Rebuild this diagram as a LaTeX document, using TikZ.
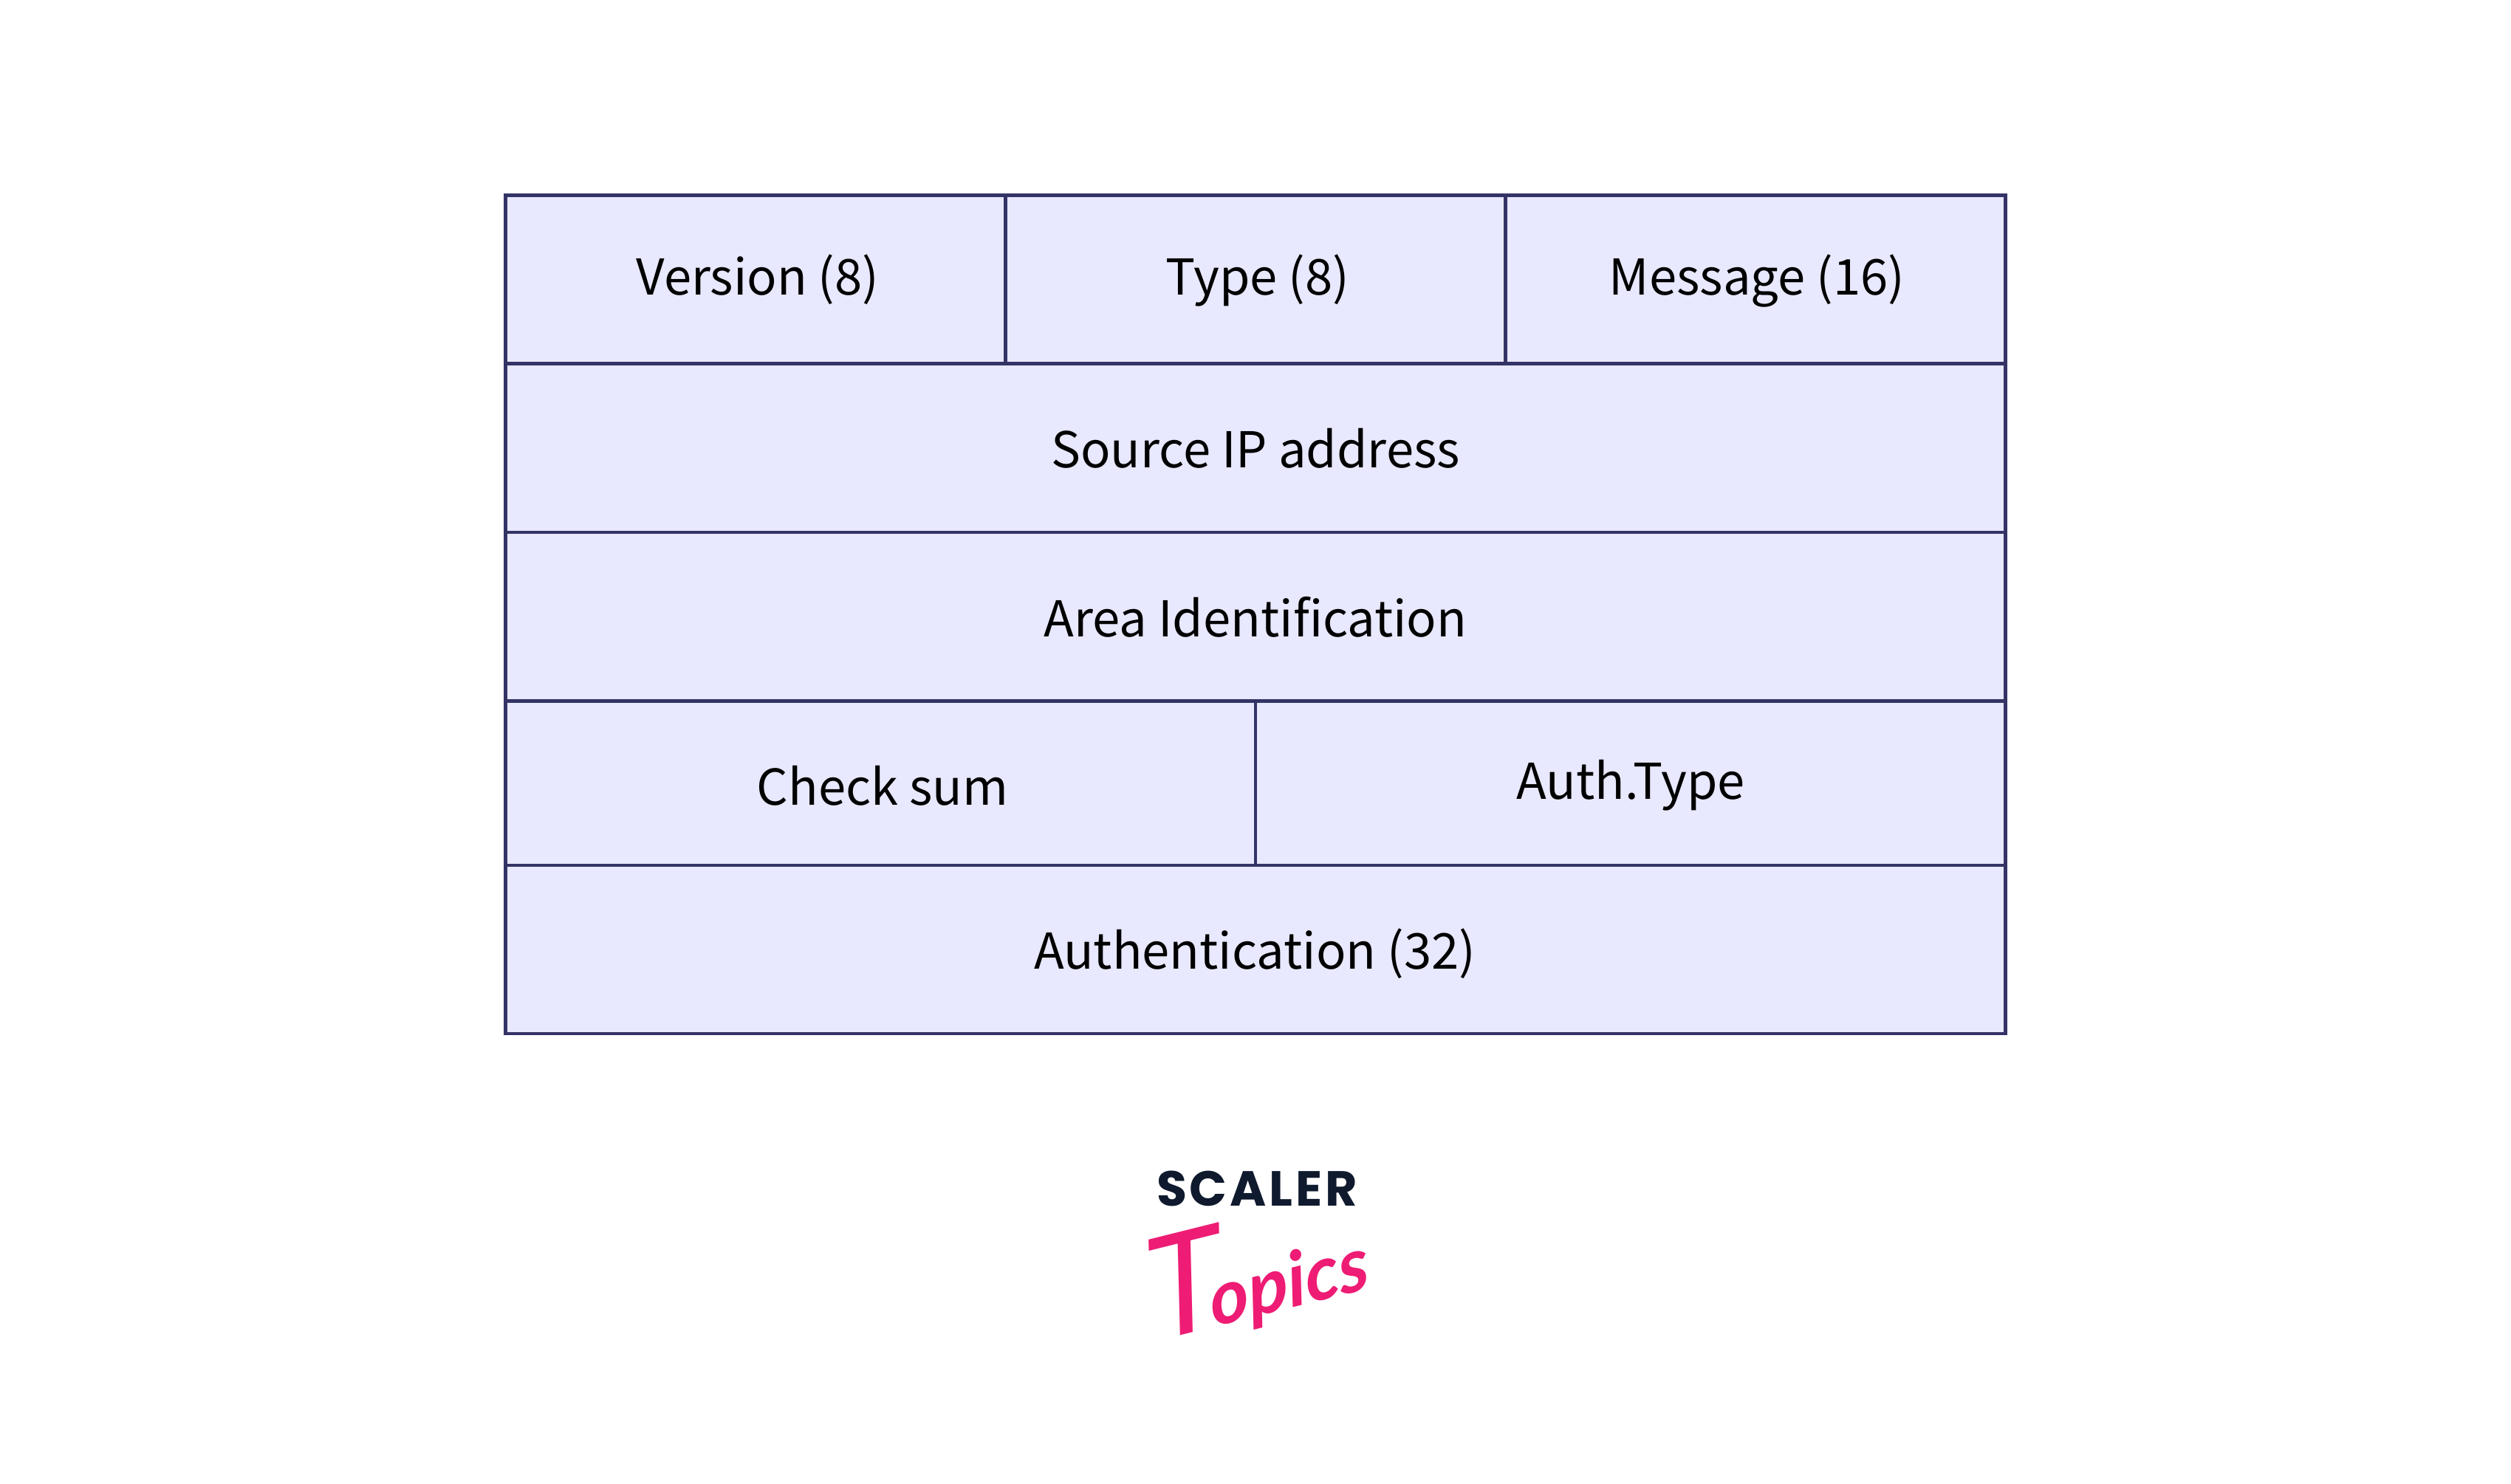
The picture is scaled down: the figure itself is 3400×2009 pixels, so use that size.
\documentclass[tikz,border=0pt]{standalone}
\usepackage{fontspec}
\setmainfont{Noto Sans CJK SC}
\newfontfamily\logofont{Poppins}[UprightFont=* Bold]
\newfontfamily\slantlogofont{Lato}[UprightFont=* Italic]
\definecolor{cellfill}{HTML}{E8E8FE}
\definecolor{cellline}{HTML}{333366}
\definecolor{logonavy}{HTML}{0F1A2E}
\definecolor{logopink}{HTML}{EE1C74}
\tikzset{
  cell/.style={draw=cellline,fill=cellfill,line width=2.8pt,rectangle,inner sep=0pt,anchor=north west},
  celltext/.style={anchor=base,inner sep=0pt,text=black,font=\fontsize{38.1}{46}\selectfont},
}
\begin{document}
\begin{tikzpicture}[x=0.02cm,y=-0.02cm]
\useasboundingbox (0,0) rectangle (3400,2009);
\fill[white] (0,0) rectangle (3400,2009);
% Header rows of the packet layout
\node[cell,minimum width=677*0.02cm,minimum height=228*0.02cm] (version) at (682,262) {};
\node[cell,minimum width=677*0.02cm,minimum height=228*0.02cm] (type) at (1359,262) {};
\node[cell,minimum width=677*0.02cm,minimum height=228*0.02cm] (message) at (2036,262) {};
\node[cell,minimum width=2031*0.02cm,minimum height=228.5*0.02cm] (source) at (682,490) {};
\node[cell,minimum width=2031*0.02cm,minimum height=228.5*0.02cm] (area) at (682,718.5) {};
\node[cell,minimum width=1015.5*0.02cm,minimum height=222.5*0.02cm] (check) at (682,947) {};
\node[cell,minimum width=1015.5*0.02cm,minimum height=222.5*0.02cm] (auth) at (1697.5,947) {};
\node[cell,minimum width=2031*0.02cm,minimum height=228*0.02cm] (authn) at (682,1169.5) {};
% Field labels
\node[celltext] (tversion) at (1026,399) {Version (8)};
\node[celltext] (ttype) at (1703,399) {Type (8)};
\node[celltext] (tmessage) at (2379,399) {Message (16)};
\node[celltext] (tsource) at (1700,633) {Source IP address};
\node[celltext] (tarea) at (1700,862) {Area Identification};
\node[celltext] (tcheck) at (1195,1090) {Check sum};
\node[celltext] (tauth) at (2208,1082) {Auth.Type};
\node[celltext] (tauthn) at (1699,1312.5) {Authentication (32)};
% Wordmark
\node[anchor=base,inner sep=0pt,text=logonavy,font=\logofont\fontsize{38}{40}\selectfont] (scaler) at (1702,1633) {S\kern2.2pt C\kern2.2pt A\kern2.2pt L\kern2.2pt E\kern2.2pt R};
\node[anchor=center,inner sep=0pt,text=logopink,rotate=14,xslant=0.1,font=\slantlogofont\fontsize{58}{60}\selectfont] (topics) at (1702,1722) {{\fontsize{108}{110}\selectfont T}\kern-12pt {\bfseries opics}};
\end{tikzpicture}
\end{document}
